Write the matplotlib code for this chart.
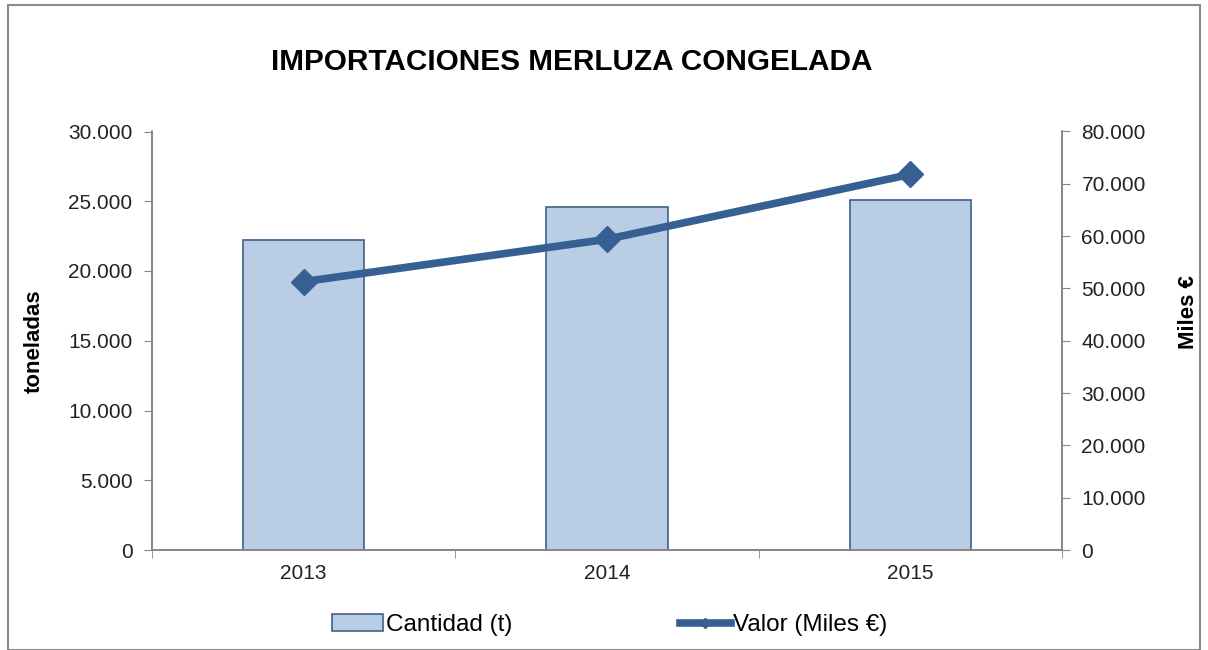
import matplotlib
matplotlib.use("Agg")
import matplotlib.pyplot as plt
from matplotlib.ticker import FuncFormatter, FixedLocator
from matplotlib.patches import Rectangle, Patch
from matplotlib.lines import Line2D

years = ["2013", "2014", "2015"]
cantidad = [22200, 24570, 25100]
valor = [51300, 59400, 71800]

plt.rcParams['font.family'] = ['Liberation Sans', 'DejaVu Sans']

bar_face = "#B9CDE5"
bar_edge = "#3F5F8A"
line_col = "#376092"
axis_col = "#868686"

fig = plt.figure(figsize=(12.08, 6.5), dpi=100)
ax = fig.add_axes([152/1208, 1-550/650, (1062-152)/1208, (550-131.5)/650])
ax2 = ax.twinx()

x = list(range(len(years)))
ax.bar(x, cantidad, width=0.4, color=bar_face, edgecolor=bar_edge, linewidth=1.2,
       label="Cantidad (t)", zorder=2)
ax2.plot(x, valor, color=line_col, lw=5.5, marker="D", markersize=13,
         markerfacecolor=line_col, markeredgecolor=line_col, label="Valor (Miles €)",
         solid_capstyle="butt", zorder=3)

ax.set_xlim(-0.5, 2.5)
ax.set_ylim(0, 30000)
ax2.set_ylim(0, 80000)
ax.set_yticks(range(0, 30001, 5000))
ax2.set_yticks(range(0, 80001, 10000))

fmt = FuncFormatter(lambda v, p: f"{int(v):,}".replace(",", "."))
ax.yaxis.set_major_formatter(fmt)
ax2.yaxis.set_major_formatter(fmt)

ax.set_xticks(x)
ax.set_xticklabels(years)
ax.xaxis.set_minor_locator(FixedLocator([-0.5, 0.5, 1.5, 2.5]))
ax.tick_params(axis='x', which='major', length=0, labelsize=15, pad=10, labelcolor="#222222")
ax.tick_params(axis='x', which='minor', length=6, color=axis_col, direction='out')
ax.tick_params(axis='y', length=6, color=axis_col, labelsize=15, pad=8, labelcolor="#222222")
ax2.tick_params(axis='y', length=6, color=axis_col, labelsize=15, pad=8, labelcolor="#222222")

for a in (ax, ax2):
    a.spines['top'].set_visible(False)
    for s in ('left', 'right', 'bottom'):
        a.spines[s].set_color(axis_col)
        a.spines[s].set_linewidth(1.2)

ax.set_ylabel("toneladas", fontsize=16, fontweight='bold')
ax.yaxis.set_label_coords((45 - 152) / 910, 0.5)
ax2.set_ylabel("Miles €", fontsize=16, fontweight='bold', rotation=90)
ax2.yaxis.set_label_coords((1178 - 152) / 910, (550 - 312) / 418.5)

fig.text(572/1208, 1-62/650, "IMPORTACIONES MERLUZA CONGELADA", ha='center', va='center',
         fontsize=21.4, fontweight='bold')

handles = [Patch(facecolor=bar_face, edgecolor=bar_edge, linewidth=1.2),
           Line2D([], [], color=line_col, lw=5.5, marker='D', markersize=5,
                  markerfacecolor=line_col, markeredgecolor=line_col)]
fig.legend(handles, ["Cantidad (t)", "Valor (Miles €)"], loc='center',
           bbox_to_anchor=(610/1208, 1-625/650),
           ncol=2, frameon=False, fontsize=17.5, columnspacing=6.9, handlelength=2.1,
           handletextpad=0.1)

fig.patches.append(Rectangle((8/1208, 0), 1-16/1208, 1-5/650, transform=fig.transFigure,
                             fill=False, edgecolor="#8C8C8C", linewidth=1.5))

fig.savefig("out.png", dpi=100)
